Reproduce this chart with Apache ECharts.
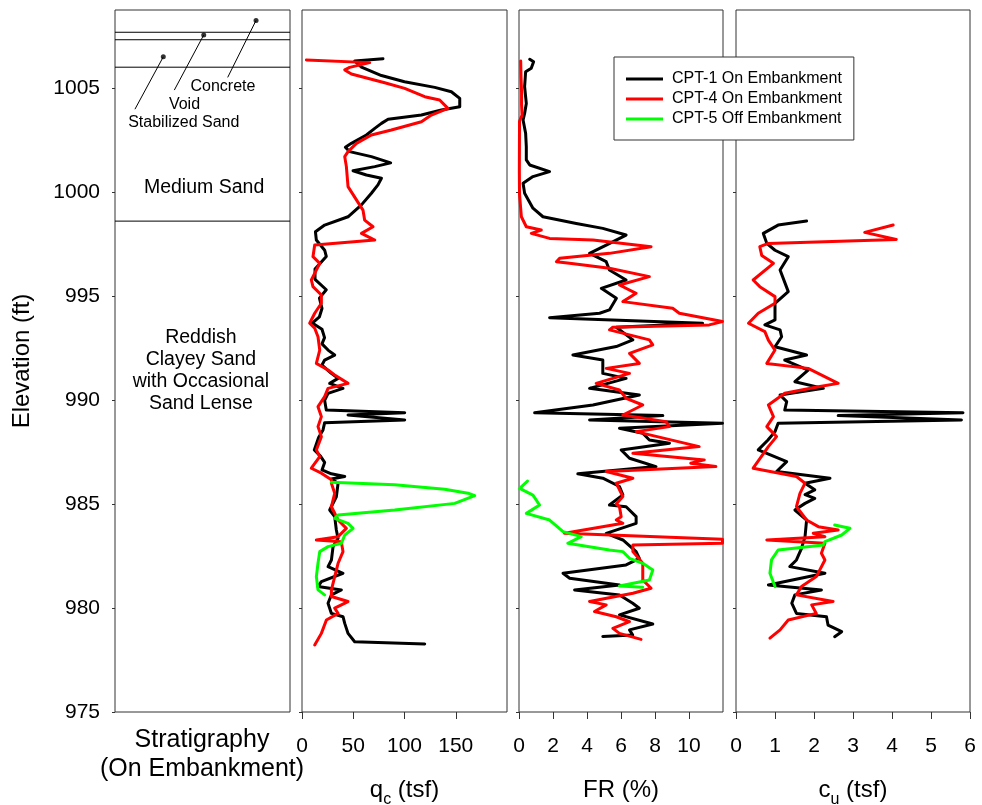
<!DOCTYPE html>
<html>
<head>
<meta charset="utf-8">
<script src="https://cdn.jsdelivr.net/npm/echarts@6/dist/echarts.min.js"></script>
<style>
  html, body { margin: 0; padding: 0; background: #fff; }
  #chart { width: 982px; height: 805px; }
</style>
</head>
<body>
<div id="chart"></div>
<script>
// ---- axis ticks ----
const elevTicks = [975, 980, 985, 990, 995, 1000, 1005];
const qcTicks = [0, 50, 100, 150];
const frTicks = [0, 2, 4, 6, 8, 10];
const cuTicks = [0, 1, 2, 3, 4, 5, 6];

// ---- stratigraphy (elevations in ft) ----
const layerBoundaries = [1007.68, 1007.32, 1006.0, 998.6];
const thinLayerNames = ['Concrete', 'Void', 'Stabilized Sand'];
const thinLayerElev = [1008.25, 1007.55, 1006.5];
const thickLayerNames = ['Medium Sand', 'Reddish\nClayey Sand\nwith Occasional\nSand Lense'];

const seriesNames = ['CPT-1 On Embankment', 'CPT-4 On Embankment', 'CPT-5 Off Embankment'];

// ---- cone tip resistance qc (tsf) : [value, elevation] ----
const qcCpt1 = [[79,1006.41],[51.4,1006.3],[58,1006.0],[77.5,1005.6],[100,1005.3],[129.5,1005.03],[145.7,1004.82],[153.9,1004.5],[153.9,1004.1],[136,1003.94],[116.5,1003.7],[84,1003.5],[77.5,1003.3],[71,1003.06],[62.8,1002.74],[48.2,1002.34],[42.3,1002.15],[46.5,1001.94],[67.7,1001.7],[86.5,1001.4],[71,1001.22],[49.8,1001.02],[62.8,1000.82],[77.5,1000.66],[74.1,1000.34],[67.7,999.94],[58,999.38],[44.9,998.81],[22.1,998.41],[13.1,998.09],[14,997.69],[22.1,997.2],[23.7,996.9],[12.7,996.3],[12.7,995.8],[23.7,995.3],[17,994.9],[19.5,994.4],[17,994.0],[10,993.7],[19.5,993.4],[22,993.0],[19.5,992.7],[25.4,992.4],[31.9,992.16],[22.1,991.92],[19.5,991.68],[28.6,991.28],[35.2,991.04],[27,990.8],[40,990.56],[25.4,990.32],[22.1,989.98],[23.7,989.52],[100.2,989.39],[44.9,989.28],[100.2,989.04],[22.1,988.91],[20.5,988.56],[16.2,988.2],[12,987.6],[18,987.3],[22.1,987.0],[19.5,986.64],[28.6,986.45],[41.7,986.32],[28.6,986.2],[35.2,986.0],[33.5,985.35],[27,984.71],[31.9,984.39],[33.5,983.75],[35.2,983.35],[30.3,982.95],[28.7,982.31],[25.4,981.99],[40,981.67],[18.9,981.27],[15.6,981.03],[38.4,980.87],[28.7,980.63],[25.4,980.23],[28.7,979.74],[40,979.58],[41.7,979.26],[44.9,978.78],[51.4,978.38],[119.7,978.27]];
const qcCpt4 = [[4.3,1006.35],[66,1006.22],[46.5,1005.99],[41.7,1005.87],[48.2,1005.67],[80.7,1005.25],[100.2,1004.98],[119.7,1004.58],[134.3,1004.42],[142.4,1004.02],[126.2,1003.7],[116.5,1003.38],[87.2,1002.98],[67.7,1002.74],[53.1,1002.34],[44.9,1001.94],[41.7,1001.7],[43.3,1001.22],[44.9,1000.26],[53.1,999.62],[59.5,999.13],[61.1,998.65],[69.3,998.33],[58,998.01],[71,997.69],[12.4,997.45],[10.7,996.89],[17.3,996.57],[9.1,995.77],[10.7,995.45],[18.9,995.05],[18.9,994.65],[12.4,994.17],[7.5,993.69],[12.4,993.45],[15.6,993.04],[17.3,992.4],[14,991.76],[25.4,991.44],[31.9,991.2],[44.9,990.8],[25.4,990.56],[22.1,990.16],[15.6,989.68],[18.9,989.2],[15.6,988.72],[18.9,988.24],[14,987.6],[17.3,987.28],[9.1,986.72],[18.9,986.48],[28.7,986.16],[28.7,986.0],[31.9,985.51],[28.7,984.87],[35.2,984.23],[43.3,983.83],[35.2,983.43],[14,983.27],[38.4,983.19],[40,982.71],[35.2,982.15],[31.9,981.51],[28.7,980.87],[28.7,980.55],[44.9,980.31],[31.9,979.99],[35.2,979.74],[23.8,979.42],[18.9,978.78],[12.4,978.22]];
const qcCpt5 = [[28.7,986.04],[90.4,985.92],[139.2,985.71],[162,985.52],[168.5,985.4],[149,985.03],[90.4,984.71],[35.2,984.47],[31.9,984.31],[44.9,984.07],[49.8,983.83],[41.7,983.51],[38.4,983.11],[25.4,982.95],[17.3,982.71],[15.6,982.15],[14,981.51],[15.6,980.87],[22.1,980.63]];

// ---- friction ratio FR (%) : [value, elevation] ----
const frCpt1 = [[0.63,1006.38],[0.86,1006.26],[0.72,1005.95],[0.39,1005.78],[0.33,1005.06],[0.43,1004.26],[0.33,1003.78],[0.24,1003.46],[0.39,1002.82],[0.43,1002.18],[0.43,1001.54],[0.63,1001.3],[1.8,1000.98],[0.82,1000.74],[0.24,1000.42],[0.33,999.94],[0.82,999.22],[1.41,998.81],[3.37,998.49],[4.93,998.25],[6.3,997.93],[5.13,997.45],[4.15,997.05],[4.54,996.89],[5.13,996.65],[5.32,996.25],[6.3,995.77],[4.84,995.37],[5.73,994.89],[5.32,994.33],[4.74,994.17],[1.8,993.96],[10.8,993.69],[5.72,993.5],[6.7,992.89],[5.72,992.57],[3.17,992.16],[4.93,991.92],[4.93,991.28],[6.3,991.04],[4.15,990.56],[7.08,990.24],[4.35,989.76],[0.92,989.39],[8.46,989.25],[4.15,989.04],[11.97,988.88],[5.91,988.64],[7.28,988.4],[7.67,988.08],[8.85,987.92],[6.01,987.6],[6.5,987.2],[8.06,986.8],[3.46,986.45],[4.93,986.24],[5.91,985.84],[6.11,985.44],[5.32,984.95],[6.3,984.87],[6.89,984.39],[6.89,984.07],[5.13,983.59],[6.11,983.27],[6.89,982.71],[7.08,982.39],[6.3,982.07],[2.59,981.67],[2.98,981.43],[5.91,981.11],[3.27,980.87],[5.91,980.63],[6.69,980.23],[7.08,979.99],[5.91,979.67],[7.87,979.23],[6.5,978.95],[6.69,978.7],[4.93,978.63]];
const frCpt4 = [[0.1,1006.3],[0.12,1005.5],[0.15,1004.8],[0.15,1004.2],[0.18,1003.7],[0.03,1003.4],[0.02,1001.0],[0.03,999.9],[0.06,999.6],[0.14,998.81],[0.43,998.33],[1.31,998.17],[0.72,998.01],[1.8,997.77],[4.35,997.69],[7.77,997.37],[5.32,997.05],[2.39,996.81],[2.2,996.65],[2.98,996.57],[5.32,996.33],[7.67,995.93],[5.91,995.53],[6.89,995.13],[6.11,994.73],[9.04,994.41],[9.43,994.17],[11.97,993.77],[11.19,993.61],[5.52,993.5],[5.32,993.37],[7.67,992.89],[7.87,992.65],[6.5,992.24],[7.08,991.76],[5.13,991.52],[6.5,991.28],[4.54,990.8],[5.91,990.48],[6.3,990.08],[7.28,989.76],[6.11,989.28],[8.65,988.96],[8.85,988.72],[6.89,988.48],[10.6,987.76],[6.7,987.44],[10.9,987.12],[10.1,986.96],[11.58,986.8],[5.13,986.56],[6.7,986.24],[5.72,986.0],[6.11,985.36],[5.72,985.0],[5.91,984.87],[6.01,984.39],[5.72,984.23],[6.11,984.07],[2.68,983.59],[11.97,983.3],[11.97,983.11],[6.7,983.03],[6.7,982.71],[7.28,982.15],[7.28,981.35],[7.77,980.95],[6.7,980.71],[4.15,980.31],[5.13,980.15],[4.44,979.83],[5.72,979.58],[6.5,979.34],[5.52,979.02],[5.91,978.78],[7.18,978.49]];
const frCpt5 = [[0.5,986.1],[0.04,985.75],[0.82,985.43],[1.21,984.95],[0.43,984.55],[1.8,984.23],[2.59,983.67],[3.66,983.43],[2.87,983.11],[5.32,982.79],[6.11,982.71],[6.5,982.39],[7.28,982.15],[7.87,981.83],[7.67,981.35],[5.91,981.06],[7.28,981.0]];

// ---- undrained shear strength cu (tsf) : [value, elevation] ----
const cuCpt1 = [[1.81,998.61],[1.08,998.41],[0.7,998.01],[0.79,997.53],[1.0,997.2],[1.34,996.89],[1.13,996.25],[1.34,995.21],[1.0,994.65],[1.0,993.85],[0.74,993.61],[1.13,993.37],[1.17,993.04],[1.0,992.56],[1.81,992.16],[1.25,991.92],[1.85,991.44],[1.51,990.88],[2.24,990.56],[1.13,990.24],[1.3,989.92],[1.25,989.52],[5.82,989.39],[2.62,989.25],[5.78,989.04],[1.08,988.88],[1.0,988.48],[0.82,988.08],[0.57,987.6],[1.3,987.04],[1.04,986.56],[2.41,986.24],[1.77,986.0],[2.02,985.68],[1.77,985.45],[2.02,985.27],[1.77,985.03],[1.51,984.71],[1.81,984.23],[1.77,983.43],[1.68,982.87],[1.55,982.31],[1.38,981.99],[2.28,981.67],[0.83,981.11],[2.19,980.87],[1.51,980.63],[1.43,980.23],[1.55,979.74],[2.32,979.58],[2.36,979.18],[2.71,978.86],[2.53,978.62]];
const cuCpt4 = [[4.03,998.41],[3.3,998.06],[4.11,997.72],[0.83,997.53],[0.61,997.37],[0.66,996.95],[0.96,996.57],[0.44,995.77],[0.61,995.45],[1.0,994.97],[1.0,994.65],[0.57,994.17],[0.32,993.69],[0.74,993.29],[0.83,992.88],[1.0,992.4],[0.79,991.76],[1.85,991.52],[2.62,990.8],[2.11,990.64],[1.25,990.32],[0.83,989.76],[0.96,989.2],[0.79,988.72],[1.04,988.24],[0.83,987.76],[0.44,986.72],[1.55,986.32],[1.77,986.0],[1.64,985.51],[1.55,984.87],[1.81,984.23],[2.11,983.91],[2.62,983.75],[1.98,983.59],[2.28,983.43],[0.79,983.27],[2.28,983.11],[2.19,982.63],[2.28,982.31],[2.06,981.51],[1.68,981.03],[1.55,980.63],[2.49,980.31],[1.94,980.15],[2.06,979.74],[1.34,979.42],[1.13,978.95],[0.87,978.55]];
const cuCpt5 = [[2.53,983.99],[2.92,983.83],[2.71,983.51],[2.28,983.19],[2.24,983.03],[1.08,982.79],[0.91,982.31],[0.87,981.67],[1.0,981.03]];

const FONT = 'Arial, "Liberation Sans", Helvetica, sans-serif';
const FRAME = '#333';
const seriesColors = ['#000000', '#ff0000', '#00ff00'];

const chart = echarts.init(document.getElementById('chart'), null, { renderer: 'canvas' });

// four side-by-side panels sharing the elevation scale
const grids = [
  { left: 115, top: 10, width: 175, height: 702 },
  { left: 302, top: 10, width: 205, height: 702 },
  { left: 519, top: 10, width: 204, height: 702 },
  { left: 736, top: 10, width: 234, height: 702 }
].map(g => Object.assign(g, {
  show: true, borderColor: FRAME, borderWidth: 1, backgroundColor: 'transparent',
  containLabel: false, outerBoundsMode: 'none'
}));

function elevAxis(i) {
  return {
    gridIndex: i, type: 'value', min: 975, max: 1008.75, interval: 5,
    axisLine: { show: false },
    splitLine: { show: false },
    axisTick: { show: true, length: 3, customValues: elevTicks, lineStyle: { color: FRAME } },
    axisLabel: { show: i === 0, customValues: elevTicks, formatter: v => String(v),
      fontSize: 21, color: '#000', margin: 15, fontFamily: FONT }
  };
}

const subRich = {
  a: { fontSize: 24, color: '#000', fontFamily: FONT, lineHeight: 36 },
  b: { fontSize: 16, color: '#000', fontFamily: FONT, padding: [20, 0, 0, 0] }
};

function valueAxis(i, max, interval, ticks, name) {
  return {
    gridIndex: i, type: 'value', min: 0, max: max, interval: interval,
    axisLine: { show: false },
    splitLine: { show: false },
    axisTick: { show: true, length: 7, customValues: ticks, lineStyle: { color: FRAME } },
    axisLabel: { customValues: ticks, formatter: v => String(v), fontSize: 21, color: '#000', margin: 24, fontFamily: FONT },
    name: name, nameLocation: 'middle', nameGap: 60,
    nameTextStyle: { rich: subRich, fontSize: 24, color: '#000', fontFamily: FONT }
  };
}

const xAxes = [
  { gridIndex: 0, type: 'value', min: 0, max: 1, show: false },
  valueAxis(1, 200, 50, qcTicks, '{a|q}{b|c}{a| (tsf)}'),
  valueAxis(2, 12, 2, frTicks, '{a|FR (%)}'),
  valueAxis(3, 6, 1, cuTicks, '{a|c}{b|u}{a| (tsf)}')
];
const yAxes = [0, 1, 2, 3].map(elevAxis);

function profile(name, data, panel, colorIdx) {
  return {
    type: 'line', name: name, data: data,
    xAxisIndex: panel, yAxisIndex: panel,
    symbol: 'none', smooth: false, silent: true,
    color: seriesColors[colorIdx],
    lineStyle: { width: 3, color: seriesColors[colorIdx], join: 'round', cap: 'round' },
    emphasis: { disabled: true }, z: 3 + colorIdx
  };
}

const plain = { symbol: 'none', silent: true, emphasis: { disabled: true }, xAxisIndex: 0, yAxisIndex: 0 };
const thinLine = { color: '#000', width: 1 };

// layer boundaries across the stratigraphy column
const boundarySeries = layerBoundaries.map(e => Object.assign({
  type: 'line', data: [[0, e], [1, e]], lineStyle: thinLine
}, plain));

// callouts for the thin surface layers: dot, leader and label
const dotX = [0.806, 0.507, 0.276];
const leaderEnd = [[0.644, 1005.51], [0.339, 1004.9], [0.114, 1003.98]];
const labelPos = [[0.617, 1005.05], [0.397, 1004.22], [0.393, 1003.35]];

const leaderSeries = thinLayerElev.map((e, i) => Object.assign({
  type: 'line', data: [[dotX[i], e], leaderEnd[i]], lineStyle: thinLine
}, plain));

const dotSeries = Object.assign({}, plain, {
  type: 'scatter', symbol: 'circle', symbolSize: 5,
  itemStyle: { color: '#000' },
  data: thinLayerElev.map((e, i) => [dotX[i], e])
});

// text anchors in the stratigraphy column (tiny white anchor under each text)
const anchorMark = { symbol: 'circle', symbolSize: 1, itemStyle: { color: '#fff', opacity: 1 } };
const labelText = { show: true, position: 'inside', formatter: p => p.name, color: '#000',
  fontFamily: FONT, textBorderWidth: 0, opacity: 1 };

const calloutLabels = Object.assign({}, plain, anchorMark, {
  type: 'scatter',
  data: thinLayerNames.map((n, i) => ({ name: n, value: labelPos[i] })),
  label: Object.assign({ fontSize: 16 }, labelText)
});

const thickLabelPos = [[0.509, 1000.2], [0.491, 991.42]];
const thickLabels = Object.assign({}, plain, anchorMark, {
  type: 'scatter',
  data: thickLayerNames.map((n, i) => ({ name: n, value: thickLabelPos[i] })),
  label: Object.assign({ fontSize: 19.5, lineHeight: 22, align: 'center' }, labelText)
});

const option = {
  animation: false,
  textStyle: { fontFamily: FONT },
  grid: grids,
  xAxis: xAxes,
  yAxis: yAxes,
  legend: {
    data: seriesNames.map(n => ({ name: n, icon: 'rect' })),
    orient: 'vertical', left: 614, top: 57,
    padding: [14, 12, 13, 12], itemGap: 4,
    itemWidth: 37, itemHeight: 3,
    backgroundColor: '#fff', borderColor: FRAME, borderWidth: 1,
    selectedMode: false,
    textStyle: { fontSize: 16, color: '#000', fontFamily: FONT, padding: [0, 0, 0, 4] }
  },
  graphic: [
    { type: 'text', x: 22, y: 361, rotation: Math.PI / 2,
      style: { text: 'Elevation (ft)', fontSize: 24, fontFamily: FONT, fill: '#000', align: 'center', verticalAlign: 'middle' } },
    { type: 'text', x: 202, y: 755,
      style: { text: 'Stratigraphy\n(On Embankment)', fontSize: 25, lineHeight: 29, fontFamily: FONT, fill: '#000', align: 'center', verticalAlign: 'middle' } }
  ],
  series: [
    profile(seriesNames[0], qcCpt1, 1, 0),
    profile(seriesNames[1], qcCpt4, 1, 1),
    profile(seriesNames[2], qcCpt5, 1, 2),
    profile(seriesNames[0], frCpt1, 2, 0),
    profile(seriesNames[1], frCpt4, 2, 1),
    profile(seriesNames[2], frCpt5, 2, 2),
    profile(seriesNames[0], cuCpt1, 3, 0),
    profile(seriesNames[1], cuCpt4, 3, 1),
    profile(seriesNames[2], cuCpt5, 3, 2)
  ].concat(boundarySeries, leaderSeries, [dotSeries, calloutLabels, thickLabels])
};

chart.setOption(option);
</script>
</body>
</html>
